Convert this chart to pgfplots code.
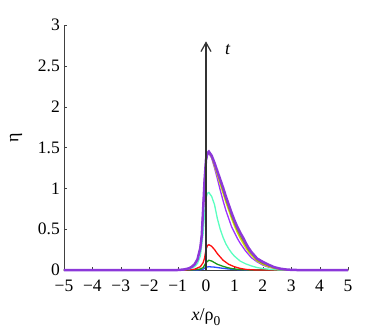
\documentclass[border=0pt]{standalone}
\usepackage{pgfplots}
\pgfplotsset{compat=1.18}
\usepackage{fontspec}
\setmainfont{Liberation Serif}
\usetikzlibrary{arrows.meta}
\definecolor{cblue}{rgb}{0.15,0.3,1}
\definecolor{cgreen}{rgb}{0.1,0.6,0.1}
\definecolor{cred}{rgb}{1,0.05,0.05}
\definecolor{ccyan}{rgb}{0.35,1,0.75}
\definecolor{cviolet}{rgb}{0.62,0.2,1}
\definecolor{cyellow}{rgb}{0.82,0.9,0.05}
\definecolor{colive}{rgb}{0.55,0.6,0.1}
\definecolor{cpurple}{rgb}{0.55,0.22,0.85}
\begin{document}
\begin{tikzpicture}
\useasboundingbox (-64pt,-60pt) rectangle (318pt,270pt);
\begin{axis}[
  at={(0,0)}, anchor=south west,
  scale only axis, width=284pt, height=245pt,
  xmin=-5, xmax=5, ymin=0, ymax=3,
  xtick={-5,-4,...,5}, ytick={0,0.5,...,3},
  yticklabels={0,0.5,1,1.5,2,2.5,3},
  xticklabels={\textminus5,\textminus4,\textminus3,\textminus2,\textminus1,0,1,2,3,4,5},
  axis x line*=bottom, axis y line*=left,
  axis line style={draw=black!75, -},
  tick style={draw=black!75, major tick length=3pt},
  tick align=inside,
  ticklabel style={font=\fontsize{17.5}{20}\selectfont, inner sep=0pt},
  xticklabel style={yshift=-10pt},
  yticklabel style={xshift=-4pt},
  xlabel={\fontsize{18}{20}\selectfont\textit{x}/ρ\raisebox{-5pt}{\fontsize{13.5}{15}\selectfont 0}},
  ylabel={\fontsize{18}{20}\selectfont η},
  ylabel style={at={(axis description cs:0,0.54)}, anchor=center, rotate=0, yshift=48pt},
  xlabel style={at={(axis description cs:0.5,0)}, anchor=base, yshift=-50pt},
  clip=false,
  every axis plot/.append style={line width=1.3pt},
]
% blue
\addplot[cblue] coordinates {(-5,0)(-0.4,0)(-0.2,0.003)(-0.1,0.01)(0,0.035)(0.1,0.04)(0.3,0.035)(0.5,0.025)(0.8,0.012)(1.1,0.005)(1.5,0)(5,0)};
% green
\addplot[cgreen] coordinates {(-5,0)(-0.6,0)(-0.4,0.003)(-0.2,0.012)(-0.1,0.03)(0,0.09)(0.1,0.12)(0.2,0.11)(0.3,0.09)(0.4,0.07)(0.6,0.045)(0.8,0.025)(1.0,0.012)(1.3,0.004)(1.6,0)(5,0)};
% red
\addplot[cred] coordinates {(-5,0)(-0.8,0)(-0.6,0.003)(-0.4,0.01)(-0.2,0.04)(-0.1,0.09)(-0.05,0.15)(0,0.25)(0.05,0.3)(0.1,0.31)(0.2,0.29)(0.3,0.25)(0.4,0.2)(0.5,0.16)(0.6,0.12)(0.8,0.07)(1.0,0.04)(1.2,0.02)(1.4,0.008)(1.6,0.003)(1.8,0)(5,0)};
% cyan
\addplot[ccyan] coordinates {(-5,0)(-1,0)(-0.8,0.003)(-0.6,0.012)(-0.4,0.04)(-0.3,0.08)(-0.2,0.17)(-0.1,0.45)(-0.05,0.7)(0,0.88)(0.05,0.94)(0.1,0.95)(0.2,0.9)(0.3,0.8)(0.4,0.63)(0.5,0.5)(0.6,0.4)(0.7,0.32)(0.8,0.26)(0.9,0.21)(1.0,0.17)(1.2,0.11)(1.4,0.075)(1.6,0.05)(1.8,0.03)(2.0,0.018)(2.3,0.007)(2.6,0)(5,0)};
% violet
\addplot[cviolet] coordinates {(-5,0)(-1,0)(-0.8,0.005)(-0.6,0.02)(-0.5,0.04)(-0.4,0.07)(-0.3,0.13)(-0.2,0.27)(-0.15,0.42)(-0.1,0.75)(-0.05,1.1)(0,1.33)(0.05,1.41)(0.1,1.43)(0.2,1.37)(0.3,1.25)(0.4,1.12)(0.5,0.98)(0.6,0.85)(0.7,0.73)(0.8,0.63)(0.9,0.53)(1.0,0.46)(1.1,0.39)(1.2,0.33)(1.4,0.23)(1.6,0.15)(1.8,0.1)(2.0,0.06)(2.2,0.035)(2.5,0.015)(2.8,0.005)(3,0)(5,0)};
% yellow
\addplot[cyellow] coordinates {(-5,0)(-1,0)(-0.8,0.005)(-0.6,0.02)(-0.5,0.04)(-0.4,0.07)(-0.3,0.13)(-0.2,0.27)(-0.15,0.42)(-0.1,0.75)(-0.05,1.1)(0,1.34)(0.05,1.42)(0.1,1.44)(0.2,1.38)(0.3,1.27)(0.4,1.16)(0.5,1.05)(0.6,0.94)(0.7,0.83)(0.8,0.73)(0.9,0.63)(1.0,0.54)(1.1,0.46)(1.2,0.39)(1.3,0.33)(1.4,0.27)(1.5,0.22)(1.6,0.18)(1.8,0.11)(2.0,0.07)(2.2,0.04)(2.4,0.02)(2.6,0.01)(2.8,0.003)(3,0)(5,0)};
% olive
\addplot[colive] coordinates {(-5,0)(-1,0)(-0.8,0.005)(-0.6,0.02)(-0.5,0.04)(-0.4,0.07)(-0.3,0.13)(-0.2,0.27)(-0.15,0.42)(-0.1,0.75)(-0.05,1.1)(0,1.35)(0.05,1.43)(0.1,1.45)(0.2,1.39)(0.3,1.29)(0.4,1.19)(0.5,1.08)(0.6,0.97)(0.7,0.86)(0.8,0.76)(0.9,0.66)(1.0,0.57)(1.1,0.49)(1.2,0.42)(1.3,0.36)(1.4,0.30)(1.5,0.24)(1.6,0.20)(1.7,0.16)(1.8,0.12)(2.0,0.08)(2.2,0.05)(2.4,0.025)(2.6,0.012)(2.8,0.004)(3,0)(5,0)};
% thick purple
\addplot[cpurple, line width=2.5pt] coordinates {(-5,0)(-1,0)(-0.8,0.005)(-0.6,0.02)(-0.5,0.04)(-0.4,0.07)(-0.3,0.13)(-0.2,0.27)(-0.15,0.42)(-0.1,0.75)(-0.05,1.1)(0,1.35)(0.05,1.43)(0.1,1.45)(0.2,1.40)(0.3,1.31)(0.4,1.21)(0.5,1.11)(0.6,1.01)(0.7,0.90)(0.8,0.80)(0.9,0.70)(1.0,0.61)(1.1,0.53)(1.2,0.46)(1.3,0.40)(1.4,0.33)(1.5,0.27)(1.6,0.22)(1.7,0.18)(1.8,0.14)(2.0,0.10)(2.2,0.065)(2.4,0.035)(2.6,0.017)(2.8,0.007)(3.0,0.002)(3.2,0)(5,0)};
% time arrow
\addplot[black!80, line width=1.2pt, -{Straight Barb[length=9pt,width=10pt,line width=1.2pt]}] coordinates {(0,0)(0,2.8)};
\node[font=\fontsize{18}{20}\selectfont\itshape] at (axis cs:0.76,2.7) {t};
\end{axis}
\end{tikzpicture}
\end{document}
